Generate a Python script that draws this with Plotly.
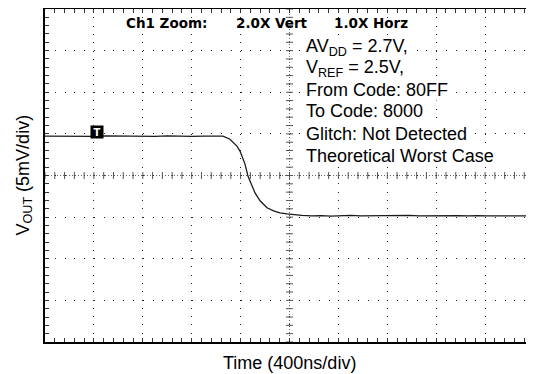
import numpy as np
import plotly.graph_objects as go

# ---- data (time in ns, Vout in mV, relative to screen centre) ----
time_ns = [-2000, -1900, -1800, -1700, -1600, -1500, -1400, -1300, -1200, -1100,
           -1000, -900, -800, -700, -600, -544, -487, -430, -405, -364, -340,
           -323, -282, -241, -184, -130, -78, -20, 29, 100, 180, 260, 340, 420,
           500, 580, 660, 740, 820, 900, 980, 1060, 1140, 1220, 1300, 1380,
           1460, 1540, 1620, 1700, 1780, 1860, 1940, 2000]
vout_mv = [4.72, 4.70, 4.74, 4.66, 4.70, 4.75, 4.72, 4.70, 4.74, 4.71,
           4.76, 4.72, 4.70, 4.74, 4.72, 4.72, 4.36, 3.53, 2.93, 1.37, -0.06,
           -0.66, -2.09, -3.04, -3.88, -4.24, -4.48, -4.62, -4.72, -4.80, -4.86,
           -4.82, -4.88, -4.84, -4.80, -4.86, -4.84, -4.88, -4.82, -4.85, -4.80,
           -4.86, -4.84, -4.82, -4.87, -4.83, -4.85, -4.81, -4.86, -4.84, -4.82,
           -4.86, -4.84, -4.84]

x_range = [-2000, 2000]   # 400 ns/div, 10 div
y_range = [-20, 20]       # 5 mV/div, 8 div
x_div, y_div = 400, 5
x_minor, y_minor = 80, 1

header_texts = ["Ch1 Zoom:", "2.0X Vert", "1.0X Horz"]
header_x = [-1008, -143, 665]
header_y = 18.3

info_lines = ["AV<sub>DD</sub> = 2.7V,", "V<sub>REF</sub> = 2.5V,", "From Code: 80FF",
              "To Code: 8000", "Glitch: Not Detected", "Theoretical Worst Case"]
info_y = [15.4, 12.8, 10.3, 7.7, 5.0, 2.4]
info_x = 126

trigger_x, trigger_y = -1576, 5.2

x_title = "Time (400ns/div)"
y_title = "V<sub>OUT</sub> (5mV/div)"

fig = go.Figure()

# centre cross tick marks
cx = np.arange(x_range[0], x_range[1] + 1, x_minor)
cy = np.arange(y_range[0], y_range[1] + 1, y_minor)
fig.add_trace(go.Scatter(x=cx, y=np.zeros_like(cx), mode="markers", hoverinfo="skip",
                         marker=dict(symbol="line-ns", size=5, line=dict(width=1, color="#555"))))
fig.add_trace(go.Scatter(x=np.zeros_like(cy), y=cy, mode="markers", hoverinfo="skip",
                         marker=dict(symbol="line-ew", size=5, line=dict(width=1, color="#555"))))

fig.add_trace(go.Scatter(x=time_ns, y=vout_mv, mode="lines",
                         line=dict(color="#1a1a1a", width=1.3), hoverinfo="skip"))

fig.add_shape(type="line", x0=0, x1=0, y0=y_range[0], y1=y_range[1],
              line=dict(color="#666", width=1, dash="1px,2px"), layer="below")
fig.add_shape(type="line", x0=x_range[0], x1=x_range[1], y0=0, y1=0,
              line=dict(color="#666", width=1, dash="1px,2px"), layer="below")

annos = []
for t, x in zip(header_texts, header_x):
    annos.append(dict(x=x, y=header_y, text=t, showarrow=False, xanchor="center", yanchor="middle",
                      font=dict(family="DejaVu Sans", size=13.5, color="black", weight="bold")))
for t, y in zip(info_lines, info_y):
    annos.append(dict(x=info_x, y=y, text=t, showarrow=False, xanchor="left", yanchor="middle",
                      bgcolor="white", borderpad=0,
                      font=dict(family="Liberation Sans", size=18, color="black")))
annos.append(dict(x=trigger_x, y=trigger_y, text="<b>T</b>", showarrow=False,
                  bgcolor="black", borderpad=1, width=10, height=10,
                  font=dict(family="DejaVu Sans", size=10, color="white")))
annos.append(dict(x=0.5, y=0, xref="paper", yref="paper", text=x_title, showarrow=False,
                  xanchor="center", yanchor="middle", yshift=-21,
                  font=dict(family="Liberation Sans", size=18, color="black")))
annos.append(dict(x=0, y=0.5, xref="paper", yref="paper", text=y_title, showarrow=False,
                  textangle=-90, xanchor="center", yanchor="middle", xshift=-21,
                  font=dict(family="Liberation Sans", size=18, color="black")))

# page body has an 8px margin, so the figure is sized to fill the rest of the window
fig.update_layout(
    width=526, height=366,
    margin=dict(l=37, r=0, t=1, b=32),
    paper_bgcolor="white", plot_bgcolor="white",
    showlegend=False,
    annotations=annos,
    xaxis=dict(range=x_range, dtick=x_div, tick0=x_range[0], showticklabels=False,
               showgrid=True, gridcolor="#222", gridwidth=1, griddash="1px,7.3px",
               zeroline=False, showline=True, linecolor="black", linewidth=2,
               mirror="allticks", ticks="inside", ticklen=4, tickcolor="#333",
               minor=dict(dtick=x_minor, tick0=x_range[0], ticks="inside", ticklen=4,
                          tickcolor="#333", showgrid=False)),
    yaxis=dict(range=y_range, dtick=y_div, tick0=y_range[0], showticklabels=False,
               showgrid=True, gridcolor="#222", gridwidth=1, griddash="1px,8.78px",
               zeroline=False, showline=True, linecolor="black", linewidth=2,
               mirror=False, ticks="inside", ticklen=4, tickcolor="#333",
               minor=dict(dtick=y_minor, tick0=y_range[0], ticks="inside", ticklen=4,
                          tickcolor="#333", showgrid=False)),
)

fig.write_html("out.html")
